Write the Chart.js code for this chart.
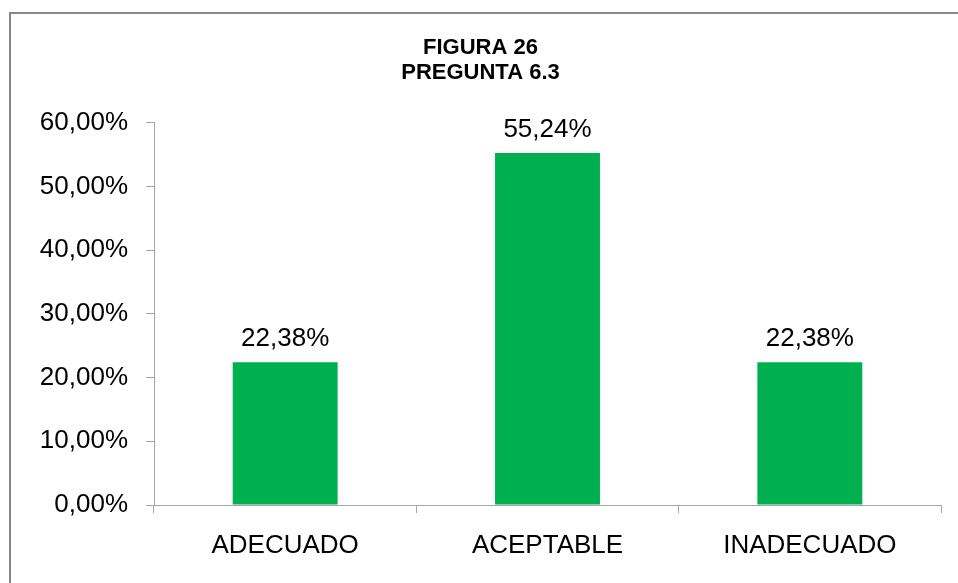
<!DOCTYPE html>
<html>
<head>
<meta charset="utf-8">
<script src="https://cdn.jsdelivr.net/npm/chart.js@4"></script>
<style>
  html, body { margin: 0; padding: 0; background: #fff; }
  #wrap { width: 958px; height: 583px; position: relative; }
</style>
</head>
<body>
<div id="wrap"><canvas id="chart"></canvas></div>
<script>
const categories = ['ADECUADO', 'ACEPTABLE', 'INADECUADO'];
const values = [22.38, 55.24, 22.38];
const titleLines = ['FIGURA 26', 'PREGUNTA 6.3'];
const yMax = 60;
const yStep = 10;

const fmt = v => v.toFixed(2).replace('.', ',') + '%';
const axisGray = '#a6a6a6';
const font = 'Liberation Sans, Arial, sans-serif';

// gray frame around the whole chart
const frame = {
  id: 'frame',
  beforeDraw(chart) {
    const ctx = chart.ctx;
    ctx.save();
    ctx.strokeStyle = '#878787';
    ctx.lineWidth = 2;
    ctx.strokeRect(10, 13, 1200, 1200);
    ctx.restore();
  },
};

// value labels above the bars
const barLabels = {
  id: 'barLabels',
  afterDatasetsDraw(chart) {
    const ctx = chart.ctx;
    ctx.save();
    ctx.font = '26px ' + font;
    ctx.fillStyle = '#000';
    ctx.textAlign = 'center';
    ctx.textBaseline = 'alphabetic';
    chart.getDatasetMeta(0).data.forEach((bar, i) => {
      ctx.fillText(fmt(values[i]), bar.x, bar.y - 16);
    });
    ctx.restore();
  },
};

new Chart(document.getElementById('chart'), {
  type: 'bar',
  data: {
    labels: categories,
    datasets: [{
      data: values,
      backgroundColor: '#00B050',
      borderWidth: 0,
      categoryPercentage: 1,
      barPercentage: 0.4,
    }],
  },
  options: {
    responsive: true,
    maintainAspectRatio: false,
    animation: false,
    layout: { padding: { left: 20, right: 17, top: 35, bottom: 0 } },
    plugins: {
      legend: { display: false },
      tooltip: { enabled: false },
      title: {
        display: true,
        text: titleLines,
        color: '#000',
        font: { family: font, size: 22, weight: 'bold', lineHeight: 1.15 },
        padding: { top: 0, bottom: 37 },
      },
    },
    scales: {
      x: {
        grid: { drawOnChartArea: false, drawTicks: true, tickLength: 8, color: axisGray },
        border: { display: true, color: axisGray, width: 1 },
        ticks: { color: '#000', font: { family: font, size: 26 }, padding: 17, maxRotation: 0 },
        afterFit(scale) { scale.height = 78; },
      },
      y: {
        min: 0,
        max: yMax,
        grid: { drawOnChartArea: false, drawTicks: true, tickLength: 8, color: axisGray },
        border: { display: true, color: axisGray, width: 1 },
        ticks: {
          stepSize: yStep,
          color: '#000',
          font: { family: font, size: 26 },
          padding: 18,
          callback: v => fmt(v),
        },
        afterFit(scale) { scale.width = 134; },
      },
    },
  },
  plugins: [frame, barLabels],
});
</script>
</body>
</html>
